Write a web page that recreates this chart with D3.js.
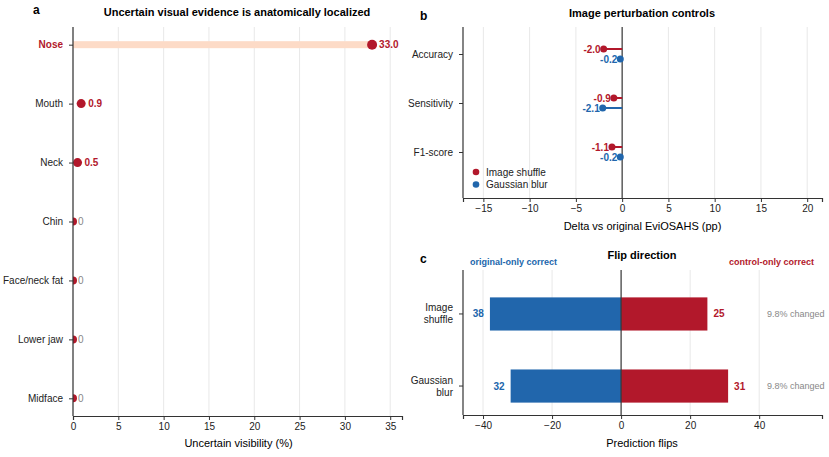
<!DOCTYPE html>
<html>
<head>
<meta charset="utf-8">
<script src="https://cdn.jsdelivr.net/npm/d3@7"></script>
<style>
  body { margin: 0; background: #fff; }
  svg { font-family: "Liberation Sans", Arial, sans-serif; }
</style>
</head>
<body>
<div id="chart"></div>
<script>
// panel a
const regions = ["Nose", "Mouth", "Neck", "Chin", "Face/neck fat", "Lower jaw", "Midface"];
const visibility = [33.0, 0.9, 0.5, 0, 0, 0, 0];
const ticksA = [0, 5, 10, 15, 20, 25, 30, 35];

// panel b
const metrics = ["Accuracy", "Sensitivity", "F1-score"];
const shuffleDelta = [-2.0, -0.9, -1.1];
const blurDelta = [-0.2, -2.1, -0.2];
const ticksB = [-15, -10, -5, 0, 5, 10, 15, 20];

// panel c
const controls = ["Image shuffle", "Gaussian blur"];
const originalOnly = [38, 32];
const controlOnly = [25, 31];
const changedPct = [9.8, 9.8];
const ticksC = [-40, -20, 0, 20, 40];

const RED = "#b2182b", BLUE = "#2166ac", PEACH = "#fddbc7", GRID = "#e8e8e8", DARK = "#333";

const svg = d3.select("#chart").append("svg")
    .attr("width", 829).attr("height", 457);

function styleAxis(g) {
    g.selectAll("path.domain").attr("stroke", DARK).attr("stroke-width", 1.2);
    g.selectAll(".tick line").attr("stroke", DARK);
    g.selectAll(".tick text").style("font-size", "10px").attr("fill", "#222");
}

// ---------- a ----------
{
    const L = 73, R = 402, T = 27, B = 416;
    const x = d3.scaleLinear().domain([0, 36.3]).range([L, R]);
    const y = d3.scalePoint().domain(regions).range([T, B]).padding(0.3);

    svg.append("g").selectAll("line").data(ticksA).join("line")
        .attr("x1", d => x(d)).attr("x2", d => x(d)).attr("y1", T).attr("y2", B)
        .attr("stroke", GRID).attr("stroke-width", 1);

    svg.append("defs").append("clipPath").attr("id", "clipA")
        .append("rect").attr("x", L).attr("y", T).attr("width", R - L).attr("height", B - T);

    const plot = svg.append("g").attr("clip-path", "url(#clipA)");
    const data = regions.map((r, i) => ({ r, v: visibility[i] }));

    plot.selectAll(".bar").data(data.filter(d => d.v > 5)).join("rect")
        .attr("x", x(0)).attr("y", d => y(d.r) - 3.5)
        .attr("width", d => x(d.v) - x(0)).attr("height", 7)
        .attr("fill", PEACH);
    plot.selectAll(".dot").data(data).join("circle")
        .attr("cx", d => x(d.v)).attr("cy", d => y(d.r))
        .attr("r", d => d.v > 5 ? 5 : d.v > 0 ? 4.5 : 4)
        .attr("fill", RED);

    svg.append("g").selectAll("text").data(data).join("text")
        .attr("x", d => x(d.v) + (d.v > 0 ? 7 : 5)).attr("y", d => y(d.r)).attr("dy", "0.35em")
        .style("font-size", "10px")
        .style("font-weight", d => d.v > 0 ? "bold" : "normal")
        .attr("fill", d => d.v > 0 ? RED : "#888")
        .text(d => d.v > 0 ? d.v.toFixed(1) : "0");

    const ax = svg.append("g").attr("transform", `translate(0,${B})`)
        .call(d3.axisBottom(x).tickValues(ticksA).tickSize(4).tickPadding(3));
    styleAxis(ax);
    const ay = svg.append("g").attr("transform", `translate(${L},0)`)
        .call(d3.axisLeft(y).tickSize(4).tickPadding(6));
    styleAxis(ay);
    ay.select("path.domain").attr("d", `M0,${T}V${B}`);
    ay.selectAll(".tick text").filter(d => d === "Nose")
        .attr("fill", RED).style("font-weight", "bold");

    svg.append("text").attr("x", (L + R) / 2 + 1).attr("y", 447).attr("text-anchor", "middle")
        .style("font-size", "11px").text("Uncertain visibility (%)");
    svg.append("text").attr("x", 237).attr("y", 16).attr("text-anchor", "middle")
        .style("font-size", "11px").style("font-weight", "bold")
        .text("Uncertain visual evidence is anatomically localized");
    svg.append("text").attr("x", 33).attr("y", 14)
        .style("font-size", "12px").style("font-weight", "bold").text("a");
}

// ---------- b ----------
{
    const L = 463, R = 822, T = 27, B = 198;
    const x = d3.scaleLinear().domain([-17.2, 21.6]).range([L, R]);
    const y = d3.scalePoint().domain(metrics).range([54, 152]);

    svg.append("g").selectAll("line").data(ticksB.filter(d => d !== 0)).join("line")
        .attr("x1", d => x(d)).attr("x2", d => x(d)).attr("y1", T).attr("y2", B)
        .attr("stroke", GRID);
    svg.append("line").attr("x1", x(0)).attr("x2", x(0)).attr("y1", T).attr("y2", B)
        .attr("stroke", DARK).attr("stroke-width", 1.2);

    const series = [
        { name: "Image shuffle", vals: shuffleDelta, color: RED, off: -5 },
        { name: "Gaussian blur", vals: blurDelta, color: BLUE, off: 5 }
    ];
    series.forEach(s => {
        const pts = metrics.map((m, i) => ({ m, v: s.vals[i] }));
        const g = svg.append("g");
        g.selectAll("line").data(pts).join("line")
            .attr("x1", x(0)).attr("x2", d => x(d.v))
            .attr("y1", d => y(d.m) + s.off).attr("y2", d => y(d.m) + s.off)
            .attr("stroke", s.color).attr("stroke-width", 2);
        g.selectAll("circle").data(pts).join("circle")
            .attr("cx", d => x(d.v)).attr("cy", d => y(d.m) + s.off).attr("r", 3.5)
            .attr("fill", s.color);
        g.selectAll("text").data(pts).join("text")
            .attr("x", d => x(d.v) - 3).attr("y", d => y(d.m) + s.off).attr("dy", "0.35em")
            .attr("text-anchor", "end").attr("fill", s.color)
            .style("font-size", "10px").style("font-weight", "bold")
            .text(d => d.v.toFixed(1));
    });

    const lg = svg.append("g").attr("transform", "translate(476,172)");
    series.forEach((s, i) => {
        lg.append("circle").attr("cx", 0).attr("cy", i * 12.5).attr("r", 3.3).attr("fill", s.color);
        lg.append("text").attr("x", 10).attr("y", i * 12.5).attr("dy", "0.35em")
            .style("font-size", "10px").attr("fill", "#222").text(s.name);
    });

    const ax = svg.append("g").attr("transform", `translate(0,${B})`)
        .call(d3.axisBottom(x).tickValues(ticksB).tickSize(4).tickPadding(3));
    styleAxis(ax);
    const ay = svg.append("g").attr("transform", `translate(${L},0)`)
        .call(d3.axisLeft(y).tickSize(4).tickPadding(6));
    styleAxis(ay);
    ay.select("path.domain").attr("d", `M0,${T}V${B}`);

    svg.append("text").attr("x", (L + R) / 2).attr("y", 230).attr("text-anchor", "middle")
        .style("font-size", "11px").text("Delta vs original EviOSAHS (pp)");
    svg.append("text").attr("x", 642).attr("y", 17).attr("text-anchor", "middle")
        .style("font-size", "11px").style("font-weight", "bold").text("Image perturbation controls");
    svg.append("text").attr("x", 420).attr("y", 20)
        .style("font-size", "12px").style("font-weight", "bold").text("b");
}

// ---------- c ----------
{
    const L = 463, R = 822, T = 270, B = 415;
    const x = d3.scaleLinear().domain([-45.8, 58.2]).range([L, R]);
    const y = d3.scaleBand().domain(controls).range([T, B + 15]).paddingInner(0.54).paddingOuter(0.38);

    svg.append("g").selectAll("line").data(ticksC.filter(d => d !== 0)).join("line")
        .attr("x1", d => x(d)).attr("x2", d => x(d)).attr("y1", T).attr("y2", B)
        .attr("stroke", GRID);

    const rows = controls.map((c, i) => ({ c, o: originalOnly[i], k: controlOnly[i], p: changedPct[i] }));
    const g = svg.append("g");
    g.selectAll(".neg").data(rows).join("rect")
        .attr("x", d => x(-d.o)).attr("y", d => y(d.c))
        .attr("width", d => x(0) - x(-d.o)).attr("height", y.bandwidth()).attr("fill", BLUE);
    g.selectAll(".pos").data(rows).join("rect")
        .attr("x", x(0)).attr("y", d => y(d.c))
        .attr("width", d => x(d.k) - x(0)).attr("height", y.bandwidth()).attr("fill", RED);

    const cy = d => y(d.c) + y.bandwidth() / 2;
    g.selectAll(".nl").data(rows).join("text")
        .attr("x", d => x(-d.o) - 6).attr("y", cy).attr("dy", "0.35em").attr("text-anchor", "end")
        .attr("fill", BLUE).style("font-size", "10px").style("font-weight", "bold").text(d => d.o);
    g.selectAll(".pl").data(rows).join("text")
        .attr("x", d => x(d.k) + 6).attr("y", cy).attr("dy", "0.35em")
        .attr("fill", RED).style("font-size", "10px").style("font-weight", "bold").text(d => d.k);
    g.selectAll(".ch").data(rows).join("text")
        .attr("x", 767).attr("y", cy).attr("dy", "0.35em")
        .attr("fill", "#888").style("font-size", "9px").text(d => `${d.p}% changed`);

    svg.append("line").attr("x1", x(0)).attr("x2", x(0)).attr("y1", T).attr("y2", B)
        .attr("stroke", DARK).attr("stroke-width", 1.2);

    const ax = svg.append("g").attr("transform", `translate(0,${B})`)
        .call(d3.axisBottom(x).tickValues(ticksC).tickSize(4).tickPadding(3));
    styleAxis(ax);
    const ay = svg.append("g").attr("transform", `translate(${L},0)`)
        .call(d3.axisLeft(y).tickSize(4).tickPadding(6).tickFormat(""));
    styleAxis(ay);
    ay.select("path.domain").attr("d", `M0,${T}V${B}`);
    ay.selectAll(".tick").each(function(d) {
        const words = d.split(" ");
        const t = d3.select(this).append("text").attr("x", -10).attr("text-anchor", "end")
            .attr("fill", "#222").style("font-size", "10px");
        words.forEach((w, i) => t.append("tspan").attr("x", -10)
            .attr("y", (i - (words.length - 1) / 2) * 12).attr("dy", "0.35em").text(w));
    });

    svg.append("text").attr("x", 470).attr("y", 265)
        .attr("fill", BLUE).style("font-size", "9px").style("font-weight", "bold").text("original-only correct");
    svg.append("text").attr("x", 814).attr("y", 265).attr("text-anchor", "end")
        .attr("fill", RED).style("font-size", "9px").style("font-weight", "bold").text("control-only correct");
    svg.append("text").attr("x", 642).attr("y", 259).attr("text-anchor", "middle")
        .style("font-size", "11px").style("font-weight", "bold").text("Flip direction");
    svg.append("text").attr("x", 420).attr("y", 263)
        .style("font-size", "12px").style("font-weight", "bold").text("c");
    svg.append("text").attr("x", 642).attr("y", 447).attr("text-anchor", "middle")
        .style("font-size", "11px").text("Prediction flips");
}
</script>
</body>
</html>
